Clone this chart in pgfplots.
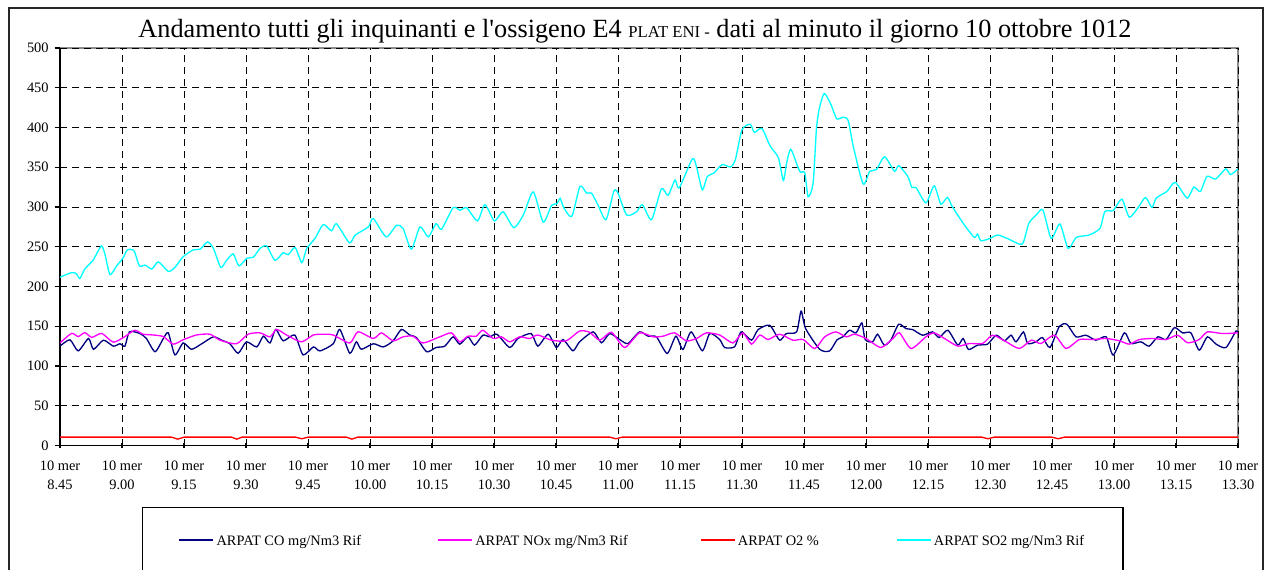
\documentclass[border=0pt]{standalone}
\usepackage{pgfplots}
\pgfplotsset{compat=1.18}
\usepackage{fontspec}
\setmainfont{Liberation Serif}
\definecolor{conavy}{RGB}{0,0,128}
\definecolor{noxmag}{RGB}{255,0,255}
\definecolor{o2red}{RGB}{255,0,0}
\definecolor{so2cyan}{RGB}{0,255,255}
\begin{document}
\begin{tikzpicture}
\draw[black!85, line width=1.1pt] (6.75pt,-6pt) rectangle (947.25pt,-470pt);
\node[anchor=base] at (476.25pt,-27.75pt) {\fontsize{19.7}{22}\selectfont Andamento tutti gli inquinanti e l\textquotesingle ossigeno E4 {\fontsize{12.5}{14}\selectfont PLAT ENI -} dati al minuto il giorno 10 ottobre 1012};
\begin{axis}[
  at={(45pt,-334.125pt)}, anchor=south west,
  scale only axis, width=883.5pt, height=298.125pt,
  xmin=0, xmax=285, ymin=0, ymax=500,
  axis lines*=left,
  axis line style={black, line width=0.9pt},
  axis background/.style={draw=black!45, line width=0.9pt},
  xtick={0,15,...,285},
  xticklabels={{10 mer\\8.45},{10 mer\\9.00},{10 mer\\9.15},{10 mer\\9.30},{10 mer\\9.45},{10 mer\\10.00},{10 mer\\10.15},{10 mer\\10.30},{10 mer\\10.45},{10 mer\\11.00},{10 mer\\11.15},{10 mer\\11.30},{10 mer\\11.45},{10 mer\\12.00},{10 mer\\12.15},{10 mer\\12.30},{10 mer\\12.45},{10 mer\\13.00},{10 mer\\13.15},{10 mer\\13.30}},
  ytick={0,50,...,500},
  grid=major,
  grid style={black, line width=0.6pt, dash pattern=on 5pt off 4pt},
  tick align=outside,
  major tick length=4pt,
  tick style={black, line width=0.8pt},
  xtick style={yshift=2pt},
  /pgf/number format/assume math mode=true,
  yticklabel style={font=\fontsize{10.8}{13}\selectfont, xshift=-1pt},
  xticklabel style={align=center, font=\fontsize{10.8}{14.25}\selectfont, yshift=-3.75pt},
  legend columns=4,
  legend style={at={(0.0696,-0.1547)}, anchor=north west, draw=black, line width=0.9pt,
    inner xsep=27pt, inner ysep=17pt, font=\fontsize{10.8}{13}\selectfont,
    /tikz/every even column/.append style={column sep=0pt}},
  legend image code/.code={\draw[#1, line width=1pt] (0pt,0pt) -- (25.5pt,0pt);},
]
\addplot[conavy, line width=1pt, smooth, tension=0.4] coordinates {
(0,125) (2.4,133) (4.4,119) (6.9,134.6) (8.1,121) (10.5,132.5) (12.9,125) (14.5,128) (15.7,125) (16.8,143)
(19.3,141) (20.9,134.6) (23,118) (25,134.6) (26.2,141.7) (27.8,114) (29.8,129) (31.8,121) (34.3,128) (37.1,136.7)
(39.1,132.5) (41.1,128) (43.1,116) (45.1,130.4) (47.6,124) (49.2,137.5) (50.8,129) (52.2,146) (54,131.7) (56.8,139)
(58.8,114) (61.3,124) (62.9,119) (66.1,128) (67.7,146) (70.1,116) (71.7,130.4) (72.9,121) (75.8,128) (78.2,124)
(80.6,131.7) (82.6,146) (84.6,139) (86.2,136) (88.7,118) (91,123.3) (93.1,125) (95.1,136.7) (96.7,127.5) (98.7,136.7)
(100.3,126.3) (102.3,138.75) (104,136.7) (105.7,140) (108.8,123.3) (110.8,134.6) (114,140.8) (115.6,125) (118.1,140) (120.1,123.3)
(121.7,133.3) (124.1,119.2) (125.7,130.4) (129,142.9) (131,129.2) (133,140.8) (135.4,133.3) (137.4,128.3) (140.2,142.9) (142.3,137.5)
(144.3,136.7) (146.9,115.8) (149,137.5) (150.7,120.8) (152.7,142.9) (155.4,119.2) (157.2,140.8) (159.6,133.3) (160.8,123.3) (163.2,124.2)
(164.8,142.9) (167.3,132.5) (168.9,145.8) (171.7,151.25) (174.1,132.5) (175.7,140.8) (178.2,142.9) (179.3,169) (180.4,147) (183.8,121)
(186.2,119) (188,133) (189.4,136.7) (191,145) (192.6,141.7) (194,154.2) (194.8,133.3) (196.6,130.4) (197.8,140) (199.4,126.3)
(201,132.5) (202.9,152.5) (204.7,147) (206.3,145.8) (208.7,138.75) (211.1,142.9) (212.7,135.8) (214.8,145) (217.2,126.3) (218.5,134.6)
(219.8,120.8) (222,126.3) (224.4,127.5) (226.5,138.75) (228.5,131.7) (230.1,138.75) (231.3,130.4) (233.1,142.9) (234.1,128.3) (236.1,130.4)
(237.7,135.8) (239.5,123.3) (241.8,150) (243.6,152.5) (245.8,136.7) (248.2,138.75) (250.6,132.5) (253.1,136.7) (254.8,113.75) (257.5,141.7)
(259.1,128.3) (261.5,130.4) (263.5,125) (265.6,136.7) (267.6,133.3) (269.6,148.3) (271.6,141.7) (273.6,141.7) (275.6,120) (277.6,136.7)
(279.7,127.5) (282.1,123.3) (284.5,144) (285,142)
};
\addlegendentry{\makebox[163.5pt][l]{\strut ARPAT CO mg/Nm3 Rif}}
\addplot[noxmag, line width=1pt, smooth, tension=0.4] coordinates {
(0,129) (2.8,141) (4.4,137) (6,142) (7.7,136) (10.1,141) (12.9,130) (15.7,137) (18.1,145) (20.1,140)
(22.6,139) (25,137) (27.4,127.5) (29.8,133) (33,139) (36.3,140) (38.7,132.5) (42.7,128) (45.5,140) (48.4,141.7)
(50.8,136.7) (52.4,146) (54.8,139) (58.4,130.4) (61.3,139) (63.7,140) (66.1,139) (70.1,129) (72.1,143) (75.8,134.6)
(77.8,141.7) (80.6,131.7) (83,136.7) (85.4,137.5) (87.8,129) (91.9,136.7) (94.7,141.7) (96.7,130.4) (98.7,137.5) (100.7,137.5)
(102.3,145) (104.8,134.6) (106.8,136.7) (108.8,130.4) (111.2,136.7) (113.6,134.6) (115.6,139) (118.9,132.5) (122.5,131.7) (125.7,144)
(128.1,142.5) (130.6,132.5) (133.4,142.5) (136.6,123.3) (140.2,141.7) (143.5,136.7) (145.9,137.5) (148.7,141.7) (151.5,131.7) (154,134.6)
(156.4,141.7) (159.6,139) (162.8,129) (165.2,141.7) (167.3,127.5) (169.3,139) (171.3,133.3) (174.1,140) (177.3,132.5) (179.8,133.3)
(182.6,121.9) (185,136.7) (187.7,142.9) (190.2,136.7) (192.2,140) (195,134.6) (198.6,123.3) (201.5,134.6) (203.1,141.7) (205.9,122)
(209.5,136.7) (211.5,141.7) (214.4,133.3) (217.2,125) (220,128.3) (223.2,128.3) (225.6,138.75) (228.5,131.7) (232.1,122) (235,132.5)
(237.3,128.3) (240.6,138.75) (243.4,122) (246.6,133.3) (249.8,133.3) (253.1,134.6) (256.3,131.7) (258.7,127.5) (261.1,133.3) (264.4,134.6)
(267.6,133.3) (270.4,138.75) (272.8,129.2) (275.6,133.3) (277.6,142.9) (281.3,140.8) (285,141.7)
};
\addlegendentry{\makebox[166.5pt][l]{\strut ARPAT NOx mg/Nm3 Rif}}
\addplot[o2red, line width=1pt] coordinates {
(0,10.5) (27,10.5) (28.5,8) (30,10.5) (41.5,10.5) (42.8,8) (44,10.5) (57,10.5) (58.5,8.5) (60,10.5)
(69.3,10.5) (70.6,8) (72,10.5) (133,10.5) (134.5,8.5) (136,10.5) (223,10.5) (224.5,8.5) (226,10.5) (240,10.5)
(241.5,8.5) (243,10.5) (285,10.5)
};
\addlegendentry{\makebox[116.5pt][l]{\strut ARPAT O2 \%}}
\addplot[so2cyan, line width=1pt, smooth, tension=0.4] coordinates {
(0,211.7) (2.8,217.5) (4,216) (4.8,210) (6,222) (8,233) (10,251) (10.9,240) (12.1,215) (13.7,226)
(15.2,235.5) (16.3,246) (17.9,245) (19.2,226) (20.6,227) (22.2,222) (23.8,231) (26.2,219) (27.8,224) (29.8,237.5)
(32.2,246) (33.9,247) (35.7,256) (37.1,248) (38.9,224) (40.3,233) (41.9,241) (43.3,226) (45.2,235.5) (46.8,237)
(48.4,248) (50,251) (52,233) (54,242.5) (55.2,240) (56.9,249) (58.5,230) (59.7,248) (61.7,260.5) (63.7,278)
(65.7,270) (66.9,279) (70,255) (71.4,264.6) (74.6,275) (75.8,285.5) (78.9,262.5) (81.4,277) (83,273) (85,247)
(87.1,275) (89.1,262.5) (91,279) (92.3,272) (95.1,299) (96.8,296) (98.4,299) (101,282.5) (102.8,303) (105.1,282.5)
(107.2,294) (109.8,274) (112.1,290) (114.5,319) (116.9,281) (118.9,302) (120.2,304) (121,311) (121.8,300) (123.8,288)
(125.8,326) (127.4,317.5) (128.6,317.5) (130.2,302) (132.1,284) (134,320) (135,317.5) (137.1,290) (139.5,294) (140.9,303)
(143.1,284) (145.5,323) (147.1,314.6) (148.8,334) (149.8,324) (153,360.6) (154,350.4) (155.4,321.5) (156.6,338.5) (158.2,342.7)
(160.2,353.4) (162.2,350.4) (163.4,359.8) (165,397.2) (167,404) (168,393.8) (169.8,398.9) (171.8,376.8) (173.8,362) (175,333.4)
(175.8,355.5) (176.8,372.6) (178.6,349.1) (179.2,343.6) (180.2,342.8) (181,313) (182.2,330) (183,398) (183.7,423.6) (184.9,442.8)
(186.6,427.9) (187.9,410.9) (189.5,413) (190.7,408.7) (191.9,376.8) (194.3,329.1) (195.9,344.9) (197.5,347) (199.5,363.2) (201.9,344.9)
(202.9,352.1) (205.1,338.5) (206.1,324.5) (207.1,324.5) (209.5,305.3) (211.5,326.6) (213.1,303.6) (214.7,312.1) (215.9,300.2) (218.8,277.4)
(221.2,261.8) (222,266) (222.8,257.6) (225,260.5) (226.9,264.8) (229.7,259.3) (232.8,253.4) (234.4,279.5) (236.2,290.1) (237.8,296.4)
(239.8,260.5) (241.9,278.7) (243.9,247.9) (245.9,261.8) (249,264.8) (251.6,273.2) (252.8,294.3) (254.8,295.6) (256.9,309.9) (258.7,287.1)
(260.9,299.8) (262.6,312) (264.2,299.4) (265.2,311.2) (267.8,319.6) (269.8,331) (272.7,311.2) (274.3,325.1) (275.9,319.6) (277.5,338.6)
(279.6,335.2) (282,347.9) (283.2,340.7) (285,347.9)
};
\addlegendentry{\strut ARPAT SO2 mg/Nm3 Rif}
\end{axis}
\pgfresetboundingbox
\path[use as bounding box] (0pt,0pt) rectangle (949.5pt,-426.75pt);
\end{tikzpicture}
\end{document}
